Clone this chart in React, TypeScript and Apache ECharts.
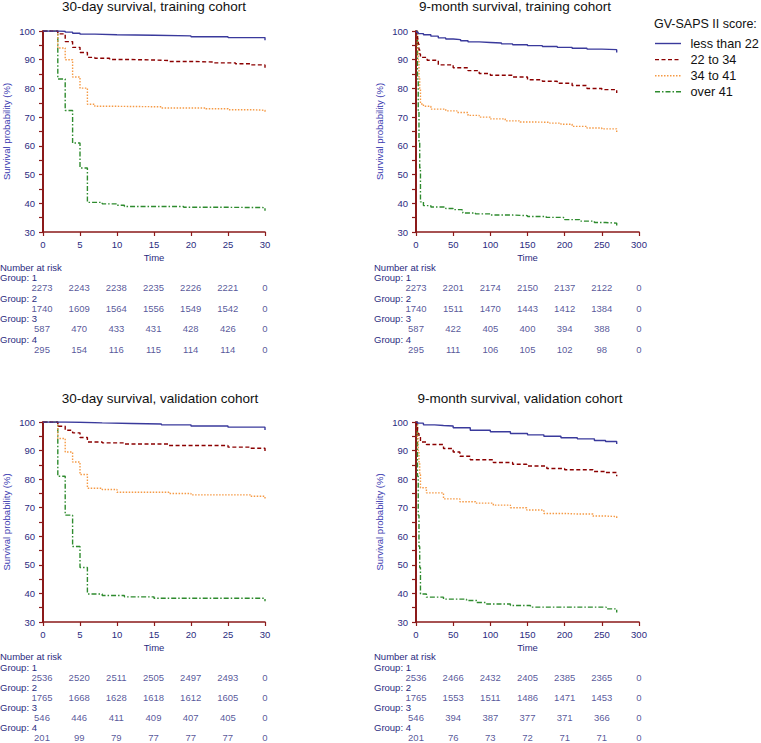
import React, { useEffect, useRef } from "react";
import * as echarts from "echarts";

// ---------- DATA ----------
const groupNames = ["less than 22", "22 to 34", "34 to 41", "over 41"];
const ticks30 = [0, 5, 10, 15, 20, 25, 30];
const ticks9m = [0, 50, 100, 150, 200, 250, 300];

// 30-day survival, training cohort  [time, survival %]
const trn30G1 = [[0, 100], [2, 99.9], [3, 99.6], [4, 99.2], [5, 98.9], [7, 98.7], [10, 98.5], [15, 98.3], [20, 98.0], [25, 97.7], [30, 97.3], [30, 96.8]];
const trn30G2 = [[0, 100], [2, 99.0], [3, 96.3], [4, 94.3], [5, 92.5], [6, 90.8], [7, 90.5], [9, 90.1], [11, 89.9], [15, 89.7], [17, 89.4], [20, 89.2], [23, 88.9], [26, 88.6], [28, 88.2], [30, 88.0], [30, 87.2]];
const trn30G3 = [[0, 100], [2, 94.1], [3, 90.0], [4, 84.0], [5, 80.1], [6, 74.5], [7, 73.8], [9, 73.6], [16, 73.2], [22, 72.9], [25, 72.6], [28, 72.4], [30, 72.2], [30, 71.4]];
const trn30G4 = [[0, 100], [2, 83.3], [3, 72.3], [4, 61.0], [5, 52.3], [6, 40.3], [8, 39.8], [10, 39.3], [11, 38.9], [19, 38.6], [25, 38.5], [30, 38.3], [30, 37.4]];

// 9-month survival, training cohort
const trn9G1 = [[0, 100], [1, 99.5], [3, 99.1], [10, 98.7], [20, 98.2], [30, 97.6], [40, 97.2], [50, 97.0], [60, 96.6], [70, 96.2], [85, 96.0], [100, 95.8], [115, 95.5], [130, 95.2], [150, 94.9], [170, 94.6], [190, 94.3], [210, 94.0], [230, 93.7], [250, 93.5], [270, 93.2], [270, 92.5]];
const trn9G2 = [[0, 100], [1, 98.8], [2, 97.2], [3, 95.5], [4, 93.5], [5, 92.0], [6, 90.8], [15, 89.8], [30, 88.2], [50, 87.2], [70, 86.2], [85, 85.2], [100, 84.6], [130, 84.0], [150, 83.0], [170, 82.5], [190, 81.8], [210, 81.0], [230, 80.0], [250, 79.6], [270, 79.2], [270, 78.4]];
const trn9G3 = [[0, 100], [2, 94.0], [3, 90.0], [4, 84.0], [5, 80.0], [6, 74.6], [10, 73.8], [20, 72.8], [40, 72.2], [55, 71.6], [70, 70.6], [85, 70.0], [100, 69.4], [120, 68.7], [140, 68.3], [160, 68.2], [180, 67.9], [195, 67.5], [210, 66.8], [230, 66.2], [250, 65.9], [270, 65.5], [270, 64.5]];
const trn9G4 = [[0, 100], [2, 83.3], [3, 72.3], [4, 61.0], [5, 52.3], [6, 40.5], [10, 39.2], [20, 38.7], [40, 38.2], [50, 37.8], [62, 37.5], [63, 36.6], [80, 36.3], [100, 35.9], [130, 35.7], [150, 35.4], [175, 35.1], [198, 34.9], [200, 34.3], [220, 33.8], [240, 33.3], [255, 33.1], [270, 32.9], [270, 32.2]];

// 30-day survival, validation cohort
const val30G1 = [[0, 100], [3, 99.9], [5, 99.7], [8, 99.5], [12, 99.3], [16, 99.0], [20, 98.6], [25, 98.2], [30, 97.9], [30, 97.2]];
const val30G2 = [[0, 100], [2, 98.5], [3, 97.1], [4, 96.2], [5, 94.6], [6, 93.0], [8, 92.7], [11, 92.3], [17, 91.8], [25, 91.2], [28, 90.8], [30, 90.4], [30, 89.6]];
const val30G3 = [[0, 100], [2, 94.2], [3, 89.5], [4, 86.0], [5, 81.6], [6, 76.8], [8, 76.4], [10, 75.4], [17, 75.0], [20, 74.5], [28, 74.0], [30, 73.5], [30, 72.7]];
const val30G4 = [[0, 100], [2, 81.0], [3, 67.4], [4, 56.4], [5, 49.1], [6, 39.8], [8, 39.3], [11, 38.8], [15, 38.3], [30, 38.2], [30, 37.3]];

// 9-month survival, validation cohort
const val9G1 = [[0, 100], [2, 99.6], [10, 99.0], [25, 98.8], [37, 98.6], [50, 98.0], [73, 97.1], [100, 96.6], [127, 96.0], [150, 95.5], [172, 95.0], [195, 94.5], [217, 94.1], [240, 93.5], [255, 93.2], [270, 92.9], [270, 92.3]];
const val9G2 = [[0, 100], [1, 98.5], [2, 97.0], [3, 96.0], [4, 95.0], [6, 93.0], [14, 92.1], [37, 90.7], [50, 89.5], [59, 88.0], [73, 86.8], [104, 85.8], [130, 85.2], [149, 84.6], [176, 83.7], [200, 83.3], [238, 82.7], [255, 82.3], [270, 82.0], [270, 81.0]];
const val9G3 = [[0, 100], [2, 94.2], [3, 89.5], [4, 86.0], [5, 81.6], [6, 77.0], [14, 75.2], [37, 73.1], [59, 72.1], [80, 71.6], [104, 70.9], [127, 70.0], [149, 69.2], [172, 68.0], [200, 67.8], [217, 67.8], [238, 67.1], [255, 66.9], [270, 66.8], [270, 66.0]];
const val9G4 = [[0, 100], [2, 81.0], [3, 67.4], [4, 56.4], [5, 49.1], [6, 39.8], [14, 38.7], [37, 38.0], [68, 37.5], [82, 36.8], [95, 36.3], [127, 35.8], [154, 35.2], [238, 35.2], [256, 34.6], [270, 34.0], [270, 33.3]];

// Number at risk
const trn30Risk = [
  [2273, 2243, 2238, 2235, 2226, 2221, 0],
  [1740, 1609, 1564, 1556, 1549, 1542, 0],
  [587, 470, 433, 431, 428, 426, 0],
  [295, 154, 116, 115, 114, 114, 0],
];
const trn9Risk = [
  [2273, 2201, 2174, 2150, 2137, 2122, 0],
  [1740, 1511, 1470, 1443, 1412, 1384, 0],
  [587, 422, 405, 400, 394, 388, 0],
  [295, 111, 106, 105, 102, 98, 0],
];
const val30Risk = [
  [2536, 2520, 2511, 2505, 2497, 2493, 0],
  [1765, 1668, 1628, 1618, 1612, 1605, 0],
  [546, 446, 411, 409, 407, 405, 0],
  [201, 99, 79, 77, 77, 77, 0],
];
const val9Risk = [
  [2536, 2466, 2432, 2405, 2385, 2365, 0],
  [1765, 1553, 1511, 1486, 1471, 1453, 0],
  [546, 394, 387, 377, 371, 366, 0],
  [201, 76, 73, 72, 71, 71, 0],
];

// ---------- STYLE ----------
const FONT = '"Liberation Sans", Arial, Helvetica, sans-serif';
const AXIS = "#8b1a1a";
const LABEL = "#2b2b80";
const lineColors = ["#3a3a9c", "#8b0000", "#f59a45", "#2e8b2e"];
const lineDash: any[] = ["solid", [4, 2.5], [1.5, 1.5], [5, 2, 1.5, 2]];

const panels = [
  { title: "30-day survival, training cohort", curves: [trn30G1, trn30G2, trn30G3, trn30G4], risk: trn30Risk, ticks: ticks30, max: 30, interval: 5, left: 42, top: 31, height: 201, titleX: 154, titleY: 6, hdrX: 0, hdrY: 267, row: 20.5 },
  { title: "9-month survival, training cohort", curves: [trn9G1, trn9G2, trn9G3, trn9G4], risk: trn9Risk, ticks: ticks9m, max: 300, interval: 50, left: 416, top: 31, height: 201, titleX: 515, titleY: 6, hdrX: 374, hdrY: 267, row: 20.5 },
  { title: "30-day survival, validation cohort", curves: [val30G1, val30G2, val30G3, val30G4], risk: val30Risk, ticks: ticks30, max: 30, interval: 5, left: 42, top: 422, height: 200, titleX: 160, titleY: 398.5, hdrX: 0, hdrY: 656.5, row: 20 },
  { title: "9-month survival, validation cohort", curves: [val9G1, val9G2, val9G3, val9G4], risk: val9Risk, ticks: ticks9m, max: 300, interval: 50, left: 416, top: 422, height: 200, titleX: 520, titleY: 398.5, hdrX: 374, hdrY: 656.5, row: 20 },
];
const PLOT_W = 223;

function buildOption() {
  const grid: any[] = [];
  const xAxis: any[] = [];
  const yAxis: any[] = [];
  const series: any[] = [];
  const graphic: any[] = [];

  panels.forEach((p, i) => {
    grid.push({ left: p.left, top: p.top, width: PLOT_W, height: p.height });
    xAxis.push({
      type: "value", gridIndex: i, min: 0, max: p.max, interval: p.interval,
      axisLine: { show: true, lineStyle: { color: AXIS, width: 1.6 } },
      axisTick: { show: true, length: 4, lineStyle: { color: AXIS, width: 1.2 } },
      axisLabel: { color: LABEL, fontSize: 9.5, margin: 7, fontFamily: FONT },
      splitLine: { show: false },
      name: "Time", nameLocation: "middle", nameGap: 20,
      nameTextStyle: { color: LABEL, fontSize: 9.5, fontFamily: FONT },
    });
    yAxis.push({
      type: "value", gridIndex: i, min: 30, max: 100, interval: 5,
      axisLine: { show: true, lineStyle: { color: AXIS, width: 2 } },
      axisTick: { show: true, length: 4, lineStyle: { color: AXIS, width: 1.2 } },
      axisLabel: { color: LABEL, fontSize: 9.5, margin: 8, fontFamily: FONT, formatter: (v: number) => (v % 10 === 0 ? String(v) : "") },
      splitLine: { show: false },
      name: "Survival probability (%)", nameLocation: "middle", nameRotate: 90, nameGap: 32,
      nameTextStyle: { color: "#3a3ab0", fontSize: 9.5, fontFamily: FONT },
    });
    p.curves.forEach((c, g) => {
      series.push({
        type: "line", name: groupNames[g], step: "end", symbol: "none", showSymbol: false,
        xAxisIndex: i, yAxisIndex: i, data: c, color: lineColors[g], z: 10 - g,
        lineStyle: { color: lineColors[g], width: 1.4, type: lineDash[g] },
      });
    });
    graphic.push({
      type: "text", x: p.titleX, y: p.titleY,
      style: { text: p.title, fontSize: 13.5, fontFamily: FONT, fill: "#111", align: "center", verticalAlign: "middle" },
    });
    graphic.push({
      type: "text", x: p.hdrX, y: p.hdrY,
      style: { text: "Number at risk", fontSize: 9.5, fontFamily: FONT, fill: LABEL, align: "left", verticalAlign: "middle" },
    });
    for (let g = 0; g < 4; g++) {
      graphic.push({
        type: "text", x: p.hdrX, y: p.hdrY + 10.5 + g * p.row,
        style: { text: "Group: " + (g + 1), fontSize: 9.5, fontFamily: FONT, fill: LABEL, align: "left", verticalAlign: "middle" },
      });
    }
  });

  // number-at-risk tables on their own grids sharing the x scale
  panels.forEach((p, i) => {
    const gi = 4 + i;
    grid.push({ left: p.left, top: p.hdrY + 10.5 + p.row / 2, width: PLOT_W, height: 3 * p.row });
    xAxis.push({ type: "value", gridIndex: gi, min: 0, max: p.max, show: false });
    yAxis.push({ type: "value", gridIndex: gi, min: 0, max: 3, inverse: true, show: false });
    p.risk.forEach((row, g) => {
      series.push({
        type: "scatter", xAxisIndex: gi, yAxisIndex: gi, symbolSize: 0, silent: true,
        data: p.ticks.map((t, k) => [t, g, row[k]]),
        label: { show: true, position: "inside", formatter: (q: any) => String(q.value[2]), color: LABEL, fontSize: 9.5, fontFamily: FONT },
      });
    });
  });

  // legend (drawn as graphic so the icons are plain styled lines)
  graphic.push({
    type: "text", x: 654, y: 24,
    style: { text: "GV-SAPS II score:", fontSize: 12.5, fontFamily: FONT, fill: "#111", align: "left", verticalAlign: "middle" },
  });
  groupNames.forEach((name, g) => {
    const y = 43.5 + g * 16.1;
    graphic.push({
      type: "line", shape: { x1: 655, y1: y, x2: 681, y2: y },
      style: { stroke: lineColors[g], lineWidth: 1.4, lineDash: g === 0 ? null : lineDash[g] },
    });
    graphic.push({
      type: "text", x: 690.5, y,
      style: { text: name, fontSize: 12.7, fontFamily: FONT, fill: "#111", align: "left", verticalAlign: "middle" },
    });
  });

  return {
    animation: false,
    backgroundColor: "#fff",
    textStyle: { fontFamily: FONT },
    grid, xAxis, yAxis, series, graphic,
  };
}

export default function App() {
  const ref = useRef<HTMLDivElement>(null);
  useEffect(() => {
    document.body.style.margin = "0";
    const chart = echarts.init(ref.current!, undefined, { renderer: "svg" });
    chart.setOption(buildOption() as any);
    return () => chart.dispose();
  }, []);
  return <div ref={ref} style={{ width: 761, height: 743 }} />;
}
